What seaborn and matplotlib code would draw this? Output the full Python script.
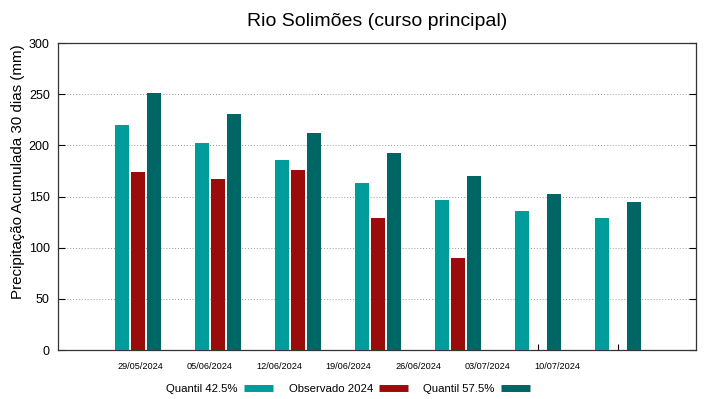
import numpy as np
import pandas as pd
import seaborn as sns
import matplotlib.pyplot as plt
from matplotlib.lines import Line2D

# dados
datas = ['29/05/2024', '05/06/2024', '12/06/2024', '19/06/2024',
         '26/06/2024', '03/07/2024', '10/07/2024']
q425 = [220, 202, 186, 163, 147, 136, 129]
observado = [174, 167, 176, 129, 90, np.nan, np.nan]
q575 = [251, 231, 212, 193, 170, 152, 145]

series = ['Quantil 42.5%', 'Observado 2024', 'Quantil 57.5%']
cores = ['#009b9b', '#9a0c0c', '#006565']

df = pd.DataFrame({
    'data': datas * 3,
    'valor': q425 + observado + q575,
    'serie': np.repeat(series, len(datas)),
})

plt.rcParams['font.family'] = ['Liberation Sans', 'DejaVu Sans']

fig = plt.figure(figsize=(7.19, 3.99), dpi=100)
ax = fig.add_axes([0.0807, 0.1228, 0.8873, 0.7694])

sns.barplot(data=df, x='data', y='valor', hue='serie', hue_order=series,
            palette=cores, saturation=1, width=0.6, gap=0.18, ax=ax,
            legend=False, edgecolor='none', zorder=3)

ax.set_xlim(-1, len(datas) - 0.025)
ax.set_ylim(0, 300)
ax.set_yticks(range(0, 301, 50))
ax.yaxis.grid(True, linestyle=(0, (1, 2)), color='#999999', linewidth=0.7, zorder=0)
ax.set_axisbelow(True)

ax.tick_params(axis='y', direction='in', length=5, right=True, labelsize=9, pad=6)
ax.tick_params(axis='x', direction='in', length=4, labelbottom=False)
for s in ax.spines.values():
    s.set_linewidth(0.9)
    s.set_color('#333333')

ax.set_xlabel('')
ax.set_ylabel('Precipitação Acumulada 30 dias (mm)', fontsize=10.9)
ax.yaxis.set_label_coords(-0.052, 0.58)
ax.set_title('Rio Solimões (curso principal)', fontsize=14, pad=12)

# rotulos das datas (deslocados como no original)
for i, d in enumerate(datas):
    ax.text(0.1285 + 0.109 * i, -0.055, d, transform=ax.transAxes,
            ha='center', va='center', fontsize=6.6)

handles = [Line2D([0], [0], color=c, lw=5, solid_capstyle='butt') for c in cores]
fig.legend(handles, series, loc='center', bbox_to_anchor=(0.484, 0.026),
           ncol=3, frameon=False, markerfirst=False, fontsize=8.2,
           handlelength=2.55, columnspacing=1.4, handletextpad=0.5)

fig.savefig('out.png', dpi=100)
